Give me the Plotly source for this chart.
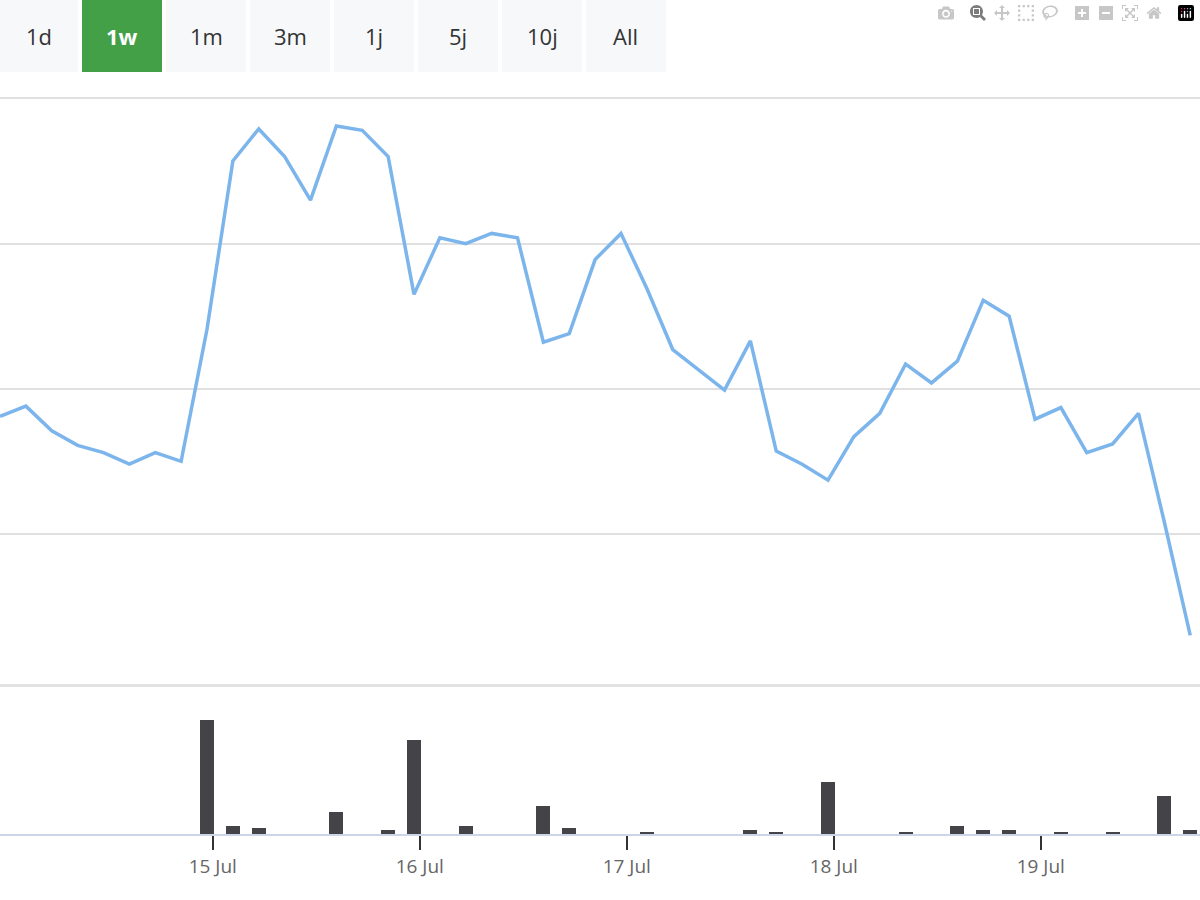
import plotly.graph_objects as go
import pandas as pd

start = pd.Timestamp("2024-07-13 23:20")
prices = [1.81,1.88,1.71,1.61,1.56,1.48,1.56,1.50,2.41,3.57,3.79,3.60,3.30,3.81,3.78,3.60,
          2.65,3.04,3.00,3.07,3.04,2.32,2.38,2.89,3.07,2.69,2.27,2.13,1.99,2.33,1.57,1.48,
          1.37,1.67,1.83,2.17,2.04,2.19,2.61,2.50,1.79,1.87,1.56,1.62,1.83,1.08,0.30]
volume = [0,0,0,0,0,0,0,0,114,8,6,0,0,22,0,4,94,0,8,0,0,28,6,0,0,2,0,0,0,4,2,0,52,0,0,2,0,8,4,4,
          0,2,0,2,0,38,4]
times = [start + pd.Timedelta(hours=3*i) for i in range(len(prices))]
buttons = ["1d","1w","1m","3m","1j","5j","10j","All"]
active = "1w"
tick_days = ["2024-07-15","2024-07-16","2024-07-17","2024-07-18","2024-07-19"]
tick_text = ["15 Jul","16 Jul","17 Jul","18 Jul","19 Jul"]

ms_per_px = 24*3600*1000/207
xr = [start, start + pd.Timedelta(milliseconds=1200*ms_per_px)]

fig = go.Figure()
fig.add_trace(go.Scatter(x=times, y=prices, mode="lines", line=dict(color="#7cb5ec", width=3.5),
                         yaxis="y2", hoverinfo="skip", cliponaxis=False))
fig.add_trace(go.Bar(x=times, y=volume, marker=dict(color="#434348", line=dict(width=0)),
                     width=14*ms_per_px, yaxis="y", hoverinfo="skip"))

H = 737
def py(p): return (834 - p)/H

shapes = [dict(type="line", xref="paper", yref="paper", x0=0, x1=1, y0=py(685.5), y1=py(685.5),
               line=dict(color="#e3e3e3", width=3))]
ann = []
for i, b in enumerate(buttons):
    x0 = 0 if i == 0 else 82 + 84*(i-1)
    x1 = 78 if i == 0 else x0 + 80
    on = b == active
    shapes.append(dict(type="rect", xref="paper", yref="paper", x0=x0/1200, x1=x1/1200,
                       y0=py(72), y1=py(0), fillcolor="#43a047" if on else "#f7f8fa",
                       line=dict(width=0)))
    ann.append(dict(xref="paper", yref="paper", x=(x0+x1)/2/1200, y=py(36),
                    xanchor="center", yanchor="middle",
                    text=f"<b>{b}</b>" if on else b,
                    showarrow=False, font=dict(size=22, color="white" if on else "#333333",
                    family="Open Sans")))

fig.update_layout(
    width=1200, height=900, margin=dict(l=0, r=0, t=97, b=66),
    paper_bgcolor="white", plot_bgcolor="white", showlegend=False, bargap=0,
    font=dict(family="Open Sans"),
    xaxis=dict(range=xr, tickvals=tick_days, ticktext=tick_text, ticks="outside", ticklen=14,
               tickcolor="#333", tickwidth=1.5, showgrid=False, showline=True, linecolor="#ccd6eb",
               linewidth=2, tickfont=dict(size=19, color="#666666"), zeroline=False),
    yaxis=dict(domain=[0, 0.198], range=[0, 146], showgrid=False, showticklabels=False, zeroline=False),
    yaxis2=dict(domain=[0.205, 1], range=[-0.027, 4.01], tickvals=[1,2,3,4], showticklabels=False,
                gridcolor="#e0e0e0", gridwidth=1.5, zeroline=False),
    shapes=shapes, annotations=ann,
)
fig.write_html("out.html", post_script="document.body.style.margin='0';document.body.style.padding='0';")
